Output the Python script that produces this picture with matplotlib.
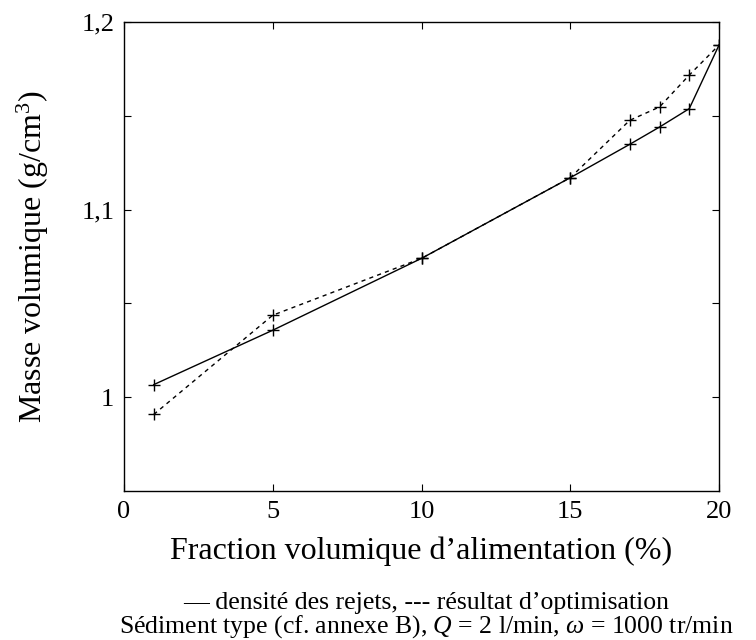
import matplotlib.pyplot as plt

plt.rcParams['font.family'] = ['Liberation Serif', 'DejaVu Serif']
plt.rcParams['mathtext.fontset'] = 'custom'
plt.rcParams['mathtext.it'] = 'Liberation Serif:italic'
plt.rcParams['mathtext.rm'] = 'Liberation Serif'

# fraction volumique (%)
x = [1, 5, 10, 15, 17, 18, 19, 20]
# densite des rejets
rejets = [1.0067, 1.0357, 1.074, 1.117, 1.1348, 1.144, 1.1538, 1.1877]
# resultat d'optimisation
optim = [0.9908, 1.0437, 1.074, 1.117, 1.1476, 1.1547, 1.1717, 1.1877]

xticks = [0, 5, 10, 15, 20]
yticks = [1.0, 1.05, 1.1, 1.15, 1.2]
ylabels = ['1', '', '1,1', '', '1,2']

fig = plt.figure(figsize=(7.56, 6.4), dpi=100)
ax = fig.add_axes([124/756, 1-491/640, (719-124)/756, (491-22)/640])

ax.plot(x, rejets, 'k-', lw=1, marker='+', ms=8, mew=1)
ax.plot(x, optim, 'k--', lw=1, marker='+', ms=8, mew=1, dashes=(3, 3))

ax.set_xlim(0, 20)
ax.set_ylim(0.95, 1.2)
ax.set_xticks(xticks)
ax.set_xticklabels([str(t) for t in xticks])
ax.set_yticks(yticks)
ax.set_yticklabels(ylabels)
ax.tick_params(direction='in', top=True, right=True, length=5, labelsize=19, pad=7)
for s in ax.spines.values():
    s.set_linewidth(1)

ax.set_xlabel("Fraction volumique d\u2019alimentation (%)", fontsize=23, labelpad=10)
ax.set_ylabel("Masse volumique (g/cm$^3$)", fontsize=23, labelpad=22)

fig.text(426/756, 1-603/640, "\u2014 densit\u00e9 des rejets, --- r\u00e9sultat d\u2019optimisation",
         ha='center', va='center', fontsize=18.5)
fig.text(426/756, 1-627/640, "S\u00e9diment type (cf. annexe B), $Q$ = 2 l/min, $\\omega$ = 1000 tr/min",
         ha='center', va='center', fontsize=18.5)

fig.savefig('out.png', dpi=100)
